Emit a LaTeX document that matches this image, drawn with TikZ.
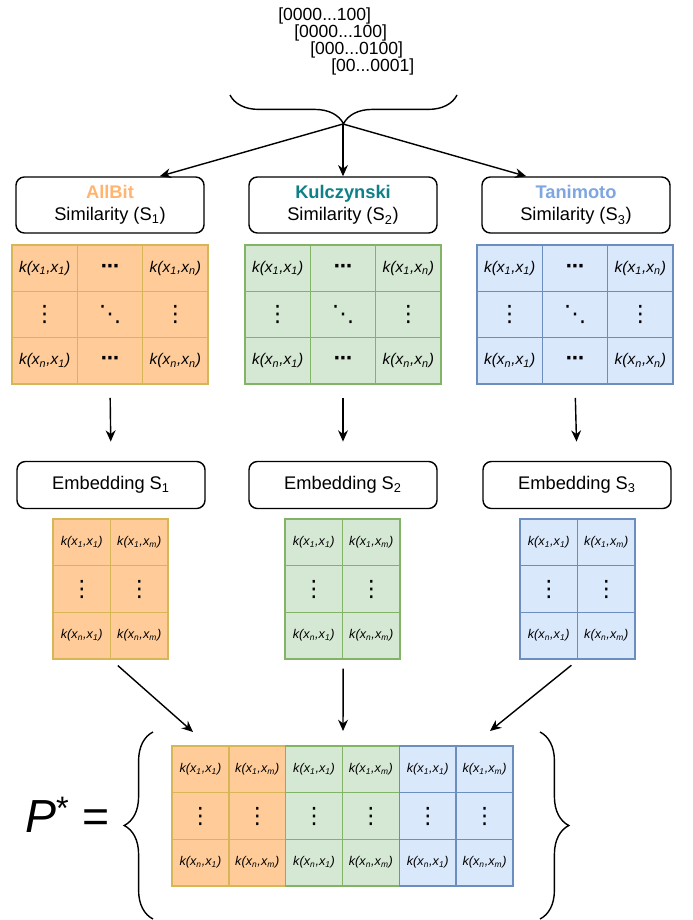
\documentclass[tikz,border=0pt]{standalone}
\usepackage{fontspec}
\setmainfont{Liberation Sans}
\newfontfamily\symfont{DejaVu Sans}
\usepackage{tikz}
\usetikzlibrary{positioning,calc,arrows.meta,decorations.pathreplacing}
\definecolor{ink}   {HTML}{000000}
\definecolor{orfill}{HTML}{FFCC99}
\definecolor{ordraw}{HTML}{D6B656}
\definecolor{grfill}{HTML}{D5E8D4}
\definecolor{grdraw}{HTML}{82B366}
\definecolor{blfill}{HTML}{DAE8FC}
\definecolor{bldraw}{HTML}{6C8EBF}
\definecolor{allbit}{HTML}{FFB570}
\definecolor{kulc}  {HTML}{0E8088}
\definecolor{tani}  {HTML}{7EA6E0}
\newcommand{\kxy}[2]{\textit{k(x\textsubscript{#1},x\textsubscript{#2})}}
\newcommand{\vdt}{{\fontsize{16}{16}\symfont ⋮}}
\newcommand{\ddt}{{\fontsize{16}{16}\symfont ⋱}}
\newcommand{\hdt}{{\fontsize{13}{13}\symfont\bfseries ⋯}}
\tikzset{
  >=stealth,
  % --- nodes
  box/.style    = {rounded corners=6pt, draw=ink, line width=1pt, fill=white, align=center,
                   minimum width=4.7cm, inner sep=2pt, font=\fontsize{13}{16}\selectfont},
  sim/.style    = {box, minimum height=1.4cm},
  emb/.style    = {box, minimum height=1.175cm},
  cell/.style   = {draw, line width=1pt, inner sep=0pt, anchor=center},
  bigcell/.style= {cell, minimum width=1.633cm, minimum height=1.158cm, font=\fontsize{11}{12}\selectfont},
  smcell/.style = {cell, minimum width=1.4375cm, minimum height=1.167cm, font=\fontsize{9}{10}\selectfont},
  pcell/.style  = {cell, minimum width=1.421cm, minimum height=1.167cm, font=\fontsize{9}{10}\selectfont},
  bits/.style   = {anchor=base west, inner sep=0pt, font=\fontsize{12.5}{13}\selectfont},
  % --- edges
  e/.style      = {-{Stealth[length=8pt,width=7pt]}, line width=1pt, draw=ink},
  brc/.style    = {decorate, line width=1pt, decoration={brace, amplitude=0.72cm}},
}
\begin{document}
\begin{tikzpicture}[x=0.025cm, y=-0.025cm]
  \useasboundingbox (0,0) rectangle (692,920);
  % bit vectors
  \node[bits] (v1) at (278,21) {[0000...100]};
  \node[bits] (v2) at (294,38) {[0000...100]};
  \node[bits] (v3) at (310,55) {[000...0100]};
  \node[bits] (v4) at (331,72) {[00...0001]};
  \draw[brc] (457,95) -- (230,95);
  \coordinate (tip) at (343,124);
  % similarity boxes
  \node[sim] (sim1) at (110,205) {\textbf{\textcolor{allbit}{AllBit}}\\Similarity (S\textsubscript{1})};
  \node[sim] (sim2) at (343,205) {\textbf{\textcolor{kulc}{Kulczynski}}\\Similarity (S\textsubscript{2})};
  \node[sim] (sim3) at (576,205) {\textbf{\textcolor{tani}{Tanimoto}}\\Similarity (S\textsubscript{3})};
  \draw[e] (tip) -- (sim1.30);
  \draw[e] (tip) -- (sim2.north);
  \draw[e] (tip) -- (sim3.150);
  % kernel matrices
  \foreach \g/\mx/\fc/\dc in {1/12/orfill/ordraw, 2/245/grfill/grdraw, 3/477/blfill/bldraw} {
    \foreach \r/\ta/\tb/\tc in {1/{\kxy{1}{1}}/{\hdt}/{\kxy{1}{n}},
                                2/{\vdt}/{\ddt}/{\vdt},
                                3/{\kxy{n}{1}}/{\hdt}/{\kxy{n}{n}}} {
      \node[bigcell, fill=\fc, draw=\dc] (b\g-\r-1) at (\mx+32.67, 245+46.33*\r-23.17) {\ta};
      \node[bigcell, fill=\fc, draw=\dc] (b\g-\r-2) at (\mx+98, 245+46.33*\r-23.17) {\tb};
      \node[bigcell, fill=\fc, draw=\dc] (b\g-\r-3) at (\mx+163.33, 245+46.33*\r-23.17) {\tc};
    }
  }
  % embedding boxes
  \node[emb] (emb1) at (111,485) {Embedding S\textsubscript{1}};
  \node[emb] (emb2) at (343,485) {Embedding S\textsubscript{2}};
  \node[emb] (emb3) at (577,485) {Embedding S\textsubscript{3}};
  \foreach \g in {1,2,3}
    \draw[e, shorten <=0.33cm, shorten >=0.48cm] (b\g-3-2.south) -- (emb\g.north);
  % embedded matrices
  \foreach \g/\mx/\fc/\dc in {1/53/orfill/ordraw, 2/285/grfill/grdraw, 3/520/blfill/bldraw} {
    \foreach \r/\ta/\tb in {1/{\kxy{1}{1}}/{\kxy{1}{m}}, 2/{\vdt}/{\vdt}, 3/{\kxy{n}{1}}/{\kxy{n}{m}}} {
      \node[smcell, fill=\fc, draw=\dc] (s\g-\r-1) at (\mx+28.75, 519+46.67*\r-23.33) {\ta};
      \node[smcell, fill=\fc, draw=\dc] (s\g-\r-2) at (\mx+86.25, 519+46.67*\r-23.33) {\tb};
    }
  }
  % concatenated matrix
  \foreach \g/\mx/\fc/\dc in {1/172/orfill/ordraw, 2/285.67/grfill/grdraw, 3/399.33/blfill/bldraw} {
    \foreach \r/\ta/\tb in {1/{\kxy{1}{1}}/{\kxy{1}{m}}, 2/{\vdt}/{\vdt}, 3/{\kxy{n}{1}}/{\kxy{n}{m}}} {
      \node[pcell, fill=\fc, draw=\dc] (p\g-\r-1) at (\mx+28.42, 746+46.67*\r-23.33) {\ta};
      \node[pcell, fill=\fc, draw=\dc] (p\g-\r-2) at (\mx+85.25, 746+46.67*\r-23.33) {\tb};
    }
  }
  \coordinate (in1) at (193,732);
  \coordinate (in2) at (343,731);
  \coordinate (in3) at (490,731);
  \foreach \g in {1,2,3}
    \draw[e, shorten <=0.22cm] (s\g-3-1.south east) -- (in\g);
  \draw[brc] (153,919) -- (153,732);
  \draw[brc] (540,732) -- (540,919);
  \node[anchor=base west, inner sep=0pt, font=\fontsize{33}{36}\selectfont] (pstar) at (25,832)
    {\textit{P}\textsuperscript{*} =};
\end{tikzpicture}
\end{document}
